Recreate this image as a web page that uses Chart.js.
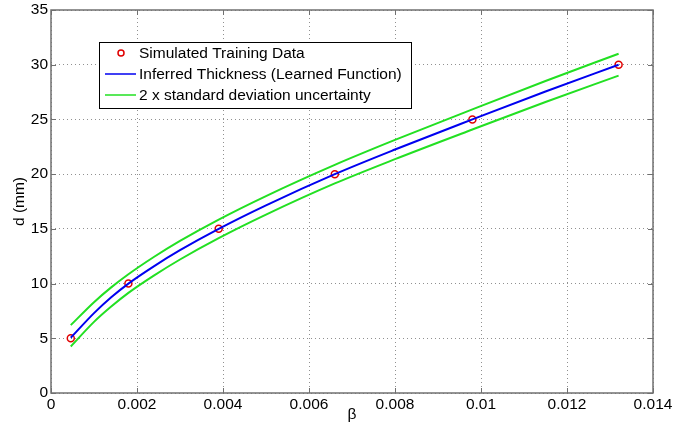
<!DOCTYPE html>
<html>
<head>
<meta charset="utf-8">
<script src="https://cdn.jsdelivr.net/npm/chart.js@4.4.1/dist/chart.umd.min.js"></script>
<style>
  html, body { margin: 0; padding: 0; background: #fff; }
</style>
</head>
<body>
<canvas id="grafico" width="674" height="429"></canvas>
<script>
// training points
const betaPontos = [0.00046, 0.0018, 0.0039, 0.0066, 0.0098, 0.0132];
const dPontos = [5, 10, 15, 20, 25, 30];

// learned function + band
const betaCurva = [0.00046, 0.001, 0.0014, 0.0018, 0.0024, 0.003, 0.0039, 0.005, 0.0066, 0.008, 0.0098, 0.0115, 0.0132];
const dMedia = [5.05, 7.3, 8.75, 10, 11.6, 13.05, 15, 17.15, 20, 22.25, 25, 27.55, 30];
const dSuperior = [6.2, 8.3, 9.65, 10.85, 12.45, 13.9, 15.85, 18.0, 20.85, 23.13, 25.92, 28.51, 31.0];
const dInferior = [4.25, 6.5, 7.9, 9.15, 10.75, 12.2, 14.15, 16.3, 19.15, 21.37, 24.08, 26.59, 29.0];

// ticks
const xTickValores = [0, 0.002, 0.004, 0.006, 0.008, 0.01, 0.012, 0.014];
const xTickTextos = ['0', '0.002', '0.004', '0.006', '0.008', '0.01', '0.012', '0.014'];
const yTickValores = [0, 5, 10, 15, 20, 25, 30, 35];

const legendaTextos = [
    'Simulated Training Data',
    'Inferred Thickness (Learned Function)',
    '2 x standard deviation uncertainty'
];

const fonte = 'Liberation Sans, Arial, sans-serif';
const tamanho = 15.5;
const azul = '#0000f0';
const verde = '#22e022';
const vermelho = '#e00000';

function juntar(xs, ys) {
    return xs.map((x, i) => ({ x: x, y: ys[i] }));
}

function semPadding(s) {
    s.paddingLeft = 0; s.paddingRight = 0; s.paddingTop = 0; s.paddingBottom = 0;
}

// frame with inward ticks (matlab style)
const moldura = {
    id: 'moldura',
    afterDatasetsDraw(chart) {
        const { ctx, chartArea: a, scales: { x, y } } = chart;
        ctx.save();
        ctx.strokeStyle = '#707070';
        ctx.lineWidth = 1.5;
        ctx.strokeRect(a.left, a.top, a.right - a.left, a.bottom - a.top);
        ctx.lineWidth = 1;
        ctx.beginPath();
        xTickValores.forEach(v => {
            const px = Math.round(x.getPixelForValue(v)) + 0.5;
            ctx.moveTo(px, a.bottom); ctx.lineTo(px, a.bottom - 5);
            ctx.moveTo(px, a.top); ctx.lineTo(px, a.top + 5);
        });
        yTickValores.forEach(v => {
            const py = Math.round(y.getPixelForValue(v)) + 0.5;
            ctx.moveTo(a.left, py); ctx.lineTo(a.left + 5, py);
            ctx.moveTo(a.right, py); ctx.lineTo(a.right - 5, py);
        });
        ctx.stroke();
        ctx.restore();
    }
};

// legend box inside the axes
const legendaCaixa = {
    id: 'legendaCaixa',
    afterDraw(chart) {
        const ctx = chart.ctx;
        const cx = 99.5, cy = 42.5, w = 312, h = 66;
        ctx.save();
        ctx.fillStyle = '#fff';
        ctx.fillRect(cx, cy, w, h);
        ctx.strokeStyle = '#000';
        ctx.lineWidth = 1;
        ctx.strokeRect(cx, cy, w, h);

        const linhas = [53, 74, 95];
        ctx.strokeStyle = vermelho;
        ctx.lineWidth = 1.5;
        ctx.beginPath();
        ctx.arc(121, linhas[0], 3, 0, Math.PI * 2);
        ctx.stroke();
        ctx.strokeStyle = azul;
        ctx.beginPath(); ctx.moveTo(105, linhas[1]); ctx.lineTo(136, linhas[1]); ctx.stroke();
        ctx.strokeStyle = verde;
        ctx.beginPath(); ctx.moveTo(105, linhas[2]); ctx.lineTo(136, linhas[2]); ctx.stroke();

        ctx.fillStyle = '#000';
        ctx.font = tamanho + 'px ' + fonte;
        ctx.textBaseline = 'middle';
        ctx.textAlign = 'left';
        legendaTextos.forEach((t, i) => ctx.fillText(t, 139, linhas[i] + 1));
        ctx.restore();
    }
};

function linha(label, dados, cor) {
    return {
        label: label,
        data: dados,
        showLine: true,
        borderColor: cor,
        borderWidth: 2,
        pointRadius: 0,
        cubicInterpolationMode: 'monotone'
    };
}

const ctx = document.getElementById('grafico').getContext('2d');
new Chart(ctx, {
    type: 'scatter',
    data: {
        datasets: [
            linha(legendaTextos[2] + ' (upper)', juntar(betaCurva, dSuperior), verde),
            linha(legendaTextos[2] + ' (lower)', juntar(betaCurva, dInferior), verde),
            linha(legendaTextos[1], juntar(betaCurva, dMedia), azul),
            {
                label: legendaTextos[0],
                data: juntar(betaPontos, dPontos),
                showLine: false,
                pointStyle: 'circle',
                pointRadius: 3.5,
                pointBorderWidth: 1.5,
                pointBorderColor: vermelho,
                pointBackgroundColor: 'rgba(0,0,0,0)'
            }
        ]
    },
    options: {
        responsive: false,
        animation: false,
        layout: { padding: { top: 10, right: 21, left: 0, bottom: 0 } },
        plugins: {
            legend: { display: false },
            tooltip: { enabled: false }
        },
        scales: {
            x: {
                type: 'linear',
                min: 0,
                max: 0.014,
                afterBuildTicks: s => { s.ticks = xTickValores.map(v => ({ value: v })); },
                afterFit: s => { s.height = 36; semPadding(s); },
                ticks: {
                    color: '#000',
                    font: { family: fonte, size: tamanho },
                    padding: 2,
                    maxRotation: 0,
                    autoSkip: false,
                    callback: (v, i) => xTickTextos[i]
                },
                grid: { color: '#909090', lineWidth: 1, drawTicks: false },
                border: { display: false, dash: [1, 3] },
                title: {
                    display: true,
                    text: 'β',
                    color: '#000',
                    font: { family: fonte, size: tamanho },
                    padding: { top: 0, bottom: 4.5 }
                }
            },
            y: {
                type: 'linear',
                min: 0,
                max: 35,
                afterBuildTicks: s => { s.ticks = yTickValores.map(v => ({ value: v })); },
                afterFit: s => { s.width = 51; semPadding(s); },
                ticks: {
                    color: '#000',
                    font: { family: fonte, size: tamanho },
                    padding: 3,
                    callback: v => String(v)
                },
                grid: { color: '#909090', lineWidth: 1, drawTicks: false },
                border: { display: false, dash: [1, 3] },
                title: {
                    display: true,
                    text: 'd (mm)',
                    color: '#000',
                    font: { family: fonte, size: tamanho },
                    padding: { top: 10.5, bottom: 0 }
                }
            }
        }
    },
    plugins: [moldura, legendaCaixa]
});
</script>
</body>
</html>
